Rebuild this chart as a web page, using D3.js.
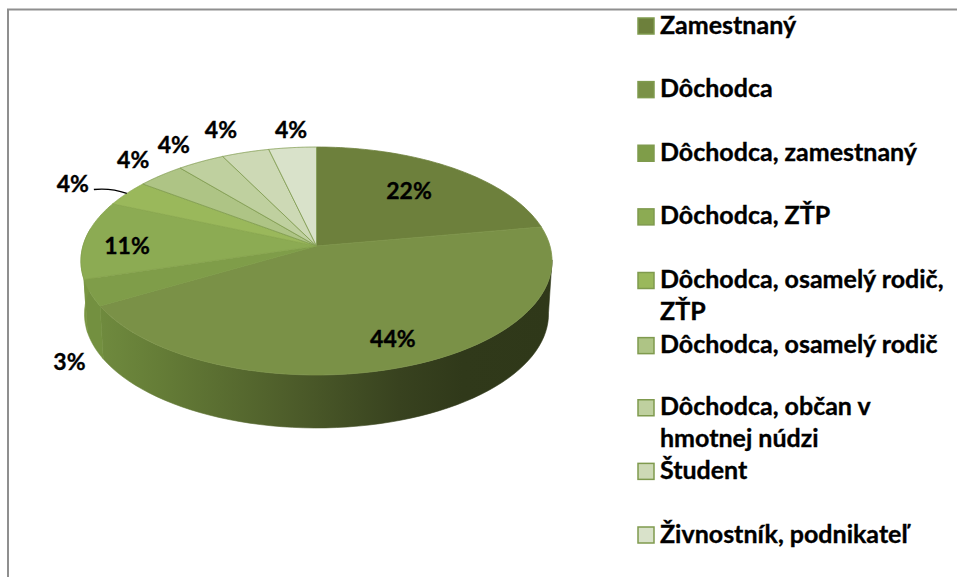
<!DOCTYPE html>
<html><head><meta charset="utf-8">
<script src="https://cdnjs.cloudflare.com/ajax/libs/d3/7.8.5/d3.min.js"></script>
<style>html,body{margin:0;padding:0;background:#fff}svg{display:block}text{font-family:Lato,"Open Sans",sans-serif;font-weight:700;fill:#000;stroke:#000;stroke-width:.35px}</style>
</head><body><svg id="c" width="957" height="577"></svg>
<script>
// Data
const categories = ["Zamestnaný","Dôchodca","Dôchodca, zamestnaný","Dôchodca, ZŤP","Dôchodca, osamelý rodič, ZŤP","Dôchodca, osamelý rodič","Dôchodca, občan v hmotnej núdzi","Študent","Živnostník, podnikateľ"];
const sliceValues = [22.2,44.4,3.7,11.1,3.7,3.7,3.7,3.7,3.7];
const percentLabels = ["22%","44%","3%","11%","4%","4%","4%","4%","4%"];
const sliceColors = ["#6d803c","#7a9147","#7f9d49","#8cab53","#9ab85b","#aec485","#bfd09f","#cdd9b5","#d9e2ca"];
const legendLines = [["Zamestnaný"],["Dôchodca"],["Dôchodca, zamestnaný"],["Dôchodca, ZŤP"],["Dôchodca, osamelý rodič,","ZŤP"],["Dôchodca, osamelý rodič"],["Dôchodca, občan v","hmotnej núdzi"],["Študent"],["Živnostník, podnikateľ"]];

// Layout
const W=957,H=577,cx=316.5,cy=246,A=233.5,B=112,k=-0.1316,depth=53,bottomScale=0.985;
const labelRadius=[.683,.798,1.297,.813,1.283,1.234,1.247,1.30,1.218];
const labelShiftDeg=[-1.6,-1.7,-20.7,-2.4,-1.5,1.5,-.5,-1.4,.7];
const legendX=638,legendBox=16,legendTextX=660,legendRowY=d3.scaleLinear().domain([0,8]).range([26,535]);
const legendTweak=[0,0,0,0,0,1.5,0,0,0];
const svg=d3.select("#c");
const rad=Math.PI/180;
function proj(theta,r=1){const x=r*Math.sin(theta),y=-r*Math.cos(theta),w=1+k*y;return [cx+A*x/w,cy+B*y/w];}
function projB(theta){const p=proj(theta);return [cx+(p[0]-cx)*bottomScale,p[1]+depth];}
const arcs=d3.pie().sort(null).value(d=>d).startAngle(0).endAngle(2*Math.PI)(sliceValues);
const line=d3.line();
const steps=t=>d3.range(0,1.0001,1/60).map(u=>t[0]+(t[1]-t[0])*u);

// frame
svg.append("path").attr("d","M8,577V9.5H957").attr("fill","none").attr("stroke","#8f8f8f").attr("stroke-width",2);

// wall gradient
const defs=svg.append("defs");
const wg=defs.append("linearGradient").attr("id","wall").attr("gradientUnits","userSpaceOnUse").attr("x1",100).attr("x2",553).attr("y1",0).attr("y2",0);
[[0,"#6f8a3e"],[.13,"#657d37"],[.4,"#4f5f2b"],[.66,"#38421f"],[.8,"#30391a"],[1,"#2f3819"]].forEach(s=>wg.append("stop").attr("offset",s[0]).attr("stop-color",s[1]));

// walls
const visStart=97*rad,visEnd=279*rad;
const wallFill=["#2f3819","url(#wall)","#739040","#789641","#8aa84f","#8aa84f","#8aa84f","#8aa84f","#8aa84f"];
svg.append("g").selectAll("path").data(arcs).join("path")
 .attr("d",d=>{const a=Math.max(d.startAngle,visStart),b=Math.min(d.endAngle,visEnd);if(b<=a)return null;const t=steps([a,b]);return line([...t.map(v=>proj(v)),...t.reverse().map(projB)])+"Z";})
 .attr("fill",(d,i)=>wallFill[i]).attr("stroke",(d,i)=>wallFill[i]).attr("stroke-width",.6);

// top faces
const topEdge=["#6d803c","#7f964b","#7f9d49","#86a34e","#8aa84f","#7f9a4e","#7f9a4e","#7f9a4e","#7f9a4e"];
svg.append("g").selectAll("path").data(arcs).join("path")
 .attr("d",d=>line([[cx,cy],...steps([d.startAngle,d.endAngle]).map(v=>proj(v))])+"Z")
 .attr("fill",(d,i)=>sliceColors[i]).attr("stroke",(d,i)=>topEdge[i]).attr("stroke-width",.8).attr("stroke-linejoin","round");

// leader for fifth slice
const m4=(arcs[4].startAngle+arcs[4].endAngle)/2, rim=proj(m4);
const lab4=proj(m4+labelShiftDeg[4]*rad,labelRadius[4]);
const from=[lab4[0]+21,lab4[1]+7];
svg.append("path").attr("d",`M${from[0]},${from[1]}C${from[0]+10},${from[1]-1} ${rim[0]-14},${rim[1]-5} ${rim[0]},${rim[1]}`).attr("fill","none").attr("stroke","#000").attr("stroke-width",1.4);

// percent labels
svg.append("g").selectAll("text").data(arcs).join("text")
 .attr("text-anchor","middle").attr("dominant-baseline","central").attr("font-size",23)
 .attr("transform",(d,i)=>{const p=proj((d.startAngle+d.endAngle)/2+labelShiftDeg[i]*rad,labelRadius[i]);return `translate(${p[0]},${p[1]})`;})
 .text((d,i)=>percentLabels[i]);

// legend
const lg=svg.append("g").selectAll("g").data(categories).join("g").attr("transform",(d,i)=>`translate(0,${legendRowY(i)+legendTweak[i]})`);
lg.append("rect").attr("x",legendX).attr("y",-legendBox/2).attr("width",legendBox).attr("height",legendBox).attr("fill",(d,i)=>sliceColors[i]).attr("stroke","#7f9a4e").attr("stroke-width",1.5);
lg.each(function(d,i){d3.select(this).selectAll("text").data(legendLines[i]).join("text").attr("x",legendTextX).attr("y",(t,j)=>7.5+j*32).attr("font-size",25).text(t=>t);});
</script></body></html>
